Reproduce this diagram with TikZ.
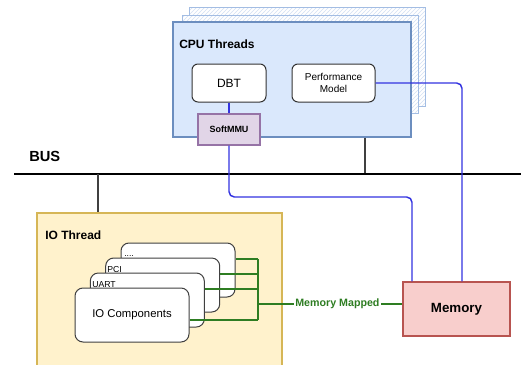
\documentclass[tikz,border=0pt]{standalone}
\usepackage{fontspec}
\setmainfont{Liberation Sans}
\usetikzlibrary{patterns}
\definecolor{cpufill}{HTML}{DAE8FC}
\definecolor{cpuline}{HTML}{6C8EBF}
\definecolor{cpuback}{HTML}{A3BDE3}
\definecolor{cpuhatch}{HTML}{D3E0F3}
\definecolor{mmufill}{HTML}{E1D5E7}
\definecolor{mmuline}{HTML}{9673A6}
\definecolor{iofill}{HTML}{FFF2CC}
\definecolor{ioline}{HTML}{D6B656}
\definecolor{memfill}{HTML}{F8CECC}
\definecolor{memline}{HTML}{B85450}
\definecolor{mapgreen}{HTML}{2E7D22}
\definecolor{mmblue}{HTML}{3333E0}
\tikzset{cpub/.style={draw=cpuback, line width=0.75pt, preaction={fill=white}, pattern=north east lines, pattern color=cpuhatch, minimum width=177pt, inner sep=0}}
\tikzset{cpu/.style={draw=cpuline, fill=cpufill, line width=0.9pt, minimum width=178.5pt, minimum height=86.25pt, inner sep=0}}
\tikzset{rb/.style={draw=black!80, fill=white, rounded corners=4.5pt, line width=0.75pt, minimum height=28.5pt, align=center}}
\tikzset{card/.style={draw=black!75, fill=white, rounded corners=6pt, line width=0.75pt, minimum width=85.5pt, minimum height=40.5pt}}
\tikzset{mmu/.style={draw=mmuline, fill=mmufill, line width=0.9pt, minimum width=46.5pt, minimum height=23.25pt, font=\fontsize{6.75}{8}\selectfont\bfseries}}
\tikzset{mem/.style={draw=memline, fill=memfill, line width=0.9pt, minimum width=80.25pt, minimum height=40.5pt, font=\fontsize{10}{12}\selectfont\bfseries}}
\tikzset{iot/.style={draw=ioline, fill=iofill, line width=0.9pt, minimum width=183.75pt, minimum height=119.25pt}}
\tikzset{ttl/.style={anchor=west, inner sep=0, font=\fontsize{9}{11}\selectfont\bfseries}}
\tikzset{tag/.style={anchor=base west, inner sep=0, font=\fontsize{6.5}{8}\selectfont}}
\tikzset{gl/.style={draw=mapgreen, line width=0.9pt}}
\tikzset{bl/.style={draw=mmblue, line width=1.1pt, rounded corners=4pt}}
\tikzset{kl/.style={draw=black!75, line width=1pt}}

\begin{document}
\begin{tikzpicture}[x=0.75pt,y=-0.75pt]
                \useasboundingbox (0,0) rectangle (521,364);
                % cpu side
                \node[cpub, minimum height=74.25pt] (back3) at (307,56.5) {};
                \node[cpub, minimum height=73.5pt] (back2) at (300,64) {};
                \node[cpu] (cpu) at (292,79.5) {};
                \node[ttl] (cputtl) at (179,44) {CPU Threads};
                \node[rb, minimum width=55.5pt, font=\fontsize{9}{11}\selectfont] (dbt) at (229,83) {DBT};
                \node[rb, minimum width=62.25pt, font=\fontsize{7.5}{8.7}\selectfont] (perf) at (333.5,83) {Performance\\Model};
                \draw[bl] (dbt) -- (229,114);
                \node[mmu] (mmu) at (229,129.5) {SoftMMU};
                % bus
                \coordinate (bl) at (14,174);
                \coordinate (br) at (521,174);
                \coordinate (t1) at (365,174);
                \coordinate (t2) at (98,174);
                \draw[kl] (t1 |- cpu.south) -- (t1);
                \draw[black, line width=1.5pt] (bl) -- (br);
                \node[anchor=west, inner sep=0, font=\fontsize{11}{13}\selectfont\bfseries] (bus) at (29,156) {BUS};
                % io side
                \node[iot] (io) at (159.5,292.5) {};
                \draw[kl] (t2) -- (t2 |- io.north);
                \node[ttl] (iottl) at (45,235) {IO Thread};
                \node[card] (dots) at (178,270) {};
                \node[tag] (dotstag) at (124,256) {....};
                \node[card] (pci) at (162.7,285) {};
                \node[tag] (pcitag) at (107,272) {PCI};
                \node[card] (uart) at (147.3,300) {};
                \node[tag] (uarttag) at (92,287) {UART};
                \node[card, font=\fontsize{8.5}{10}\selectfont] (ioc) at (132,315) {IO Components};
                \node[mem] (mem) at (456.5,309) {Memory};
                % memory mapped links
                \coordinate (g1) at (258,259);
                \coordinate (g2) at (258,274);
                \coordinate (g3) at (258,289);
                \coordinate (g4) at (258,320);
                \coordinate (gm) at (258,304);
                \draw[gl] (g1 -| dots.east) -- (g1);
                \draw[gl] (g2 -| pci.east) -- (g2);
                \draw[gl] (g3 -| uart.east) -- (g3);
                \draw[gl] (g4 -| ioc.east) -- (g4);
                \draw[gl] (g1) -- (g4);
                \path (gm) edge[gl] node[pos=0.55, fill=white, inner sep=1pt, text=mapgreen, font=\fontsize{8}{9}\selectfont\bfseries]{Memory Mapped} (gm -| mem.west);
                % blue paths to memory
                \coordinate (b1) at (412,197);
                \coordinate (b2) at (462,197);
                \draw[bl] (mmu.south) |- (b1) -- (b1 |- mem.north);
                \draw[bl] (perf.east) -| (b2 |- mem.north);
            \end{tikzpicture}
\end{document}
